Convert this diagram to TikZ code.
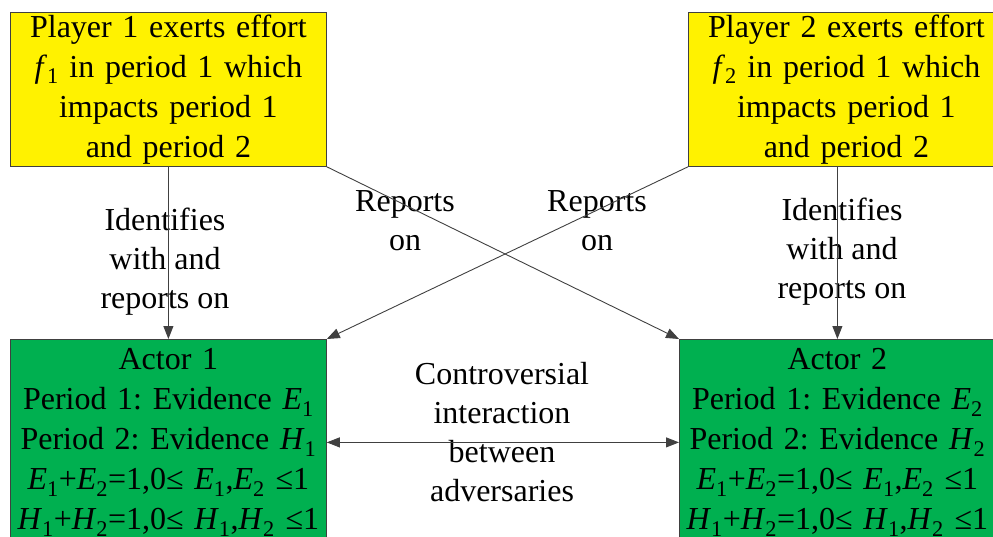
\documentclass[tikz,border=0pt]{standalone}
\usepackage{fontspec}
\setmainfont{Liberation Serif}
\usetikzlibrary{arrows.meta,positioning}
\definecolor{actorgreen}{HTML}{00B050}
\newcommand{\evar}[2]{\textit{#1}\textsubscript{#2}}
\frenchspacing

\begin{document}
\begin{tikzpicture}[x=1pt, y=-1pt, >={Triangle[length=13pt,width=10pt]},
  box/.style={draw=black!75, line width=0.8pt, text width=316pt, inner sep=0pt,
    align=center, font=\fontsize{32}{40}\selectfont},
  player/.style={box, fill=yellow, minimum height=154pt},
  actor/.style={box, fill=actorgreen, minimum height=206pt},
  lbl/.style={align=center, inner sep=0pt, font=\fontsize{32}{39}\selectfont},
  link/.style={draw=black!75, line width=0.9pt}]

\useasboundingbox (0,0) rectangle (993,537);
\clip (0,0) rectangle (993,537);

% players
\node[player, anchor=north west] (p1) at (10,12)
  {Player 1 exerts effort\\ \evar{f}{1} in period 1 which\\ impacts period 1\\ and period 2};
\node[player, anchor=north west] (p2) at (688,12)
  {Player 2 exerts effort\\ \evar{f}{2} in period 1 which\\ impacts period 1\\ and period 2};

% actors
\node[actor, anchor=north west] (a1) at (10,339)
  {Actor 1\\ Period 1: Evidence \evar{E}{1}\\ Period 2: Evidence \evar{H}{1}\\
   \makebox[0pt]{\evar{E}{1}+\evar{E}{2}=1,0≤ \evar{E}{1},\evar{E}{2} ≤1}\\
   \makebox[0pt]{\evar{H}{1}+\evar{H}{2}=1,0≤ \evar{H}{1},\evar{H}{2} ≤1}};
\node[actor, anchor=north west] (a2) at (679,339)
  {Actor 2\\ Period 1: Evidence \evar{E}{2}\\ Period 2: Evidence \evar{H}{2}\\
   \makebox[0pt]{\evar{E}{1}+\evar{E}{2}=1,0≤ \evar{E}{1},\evar{E}{2} ≤1}\\
   \makebox[0pt]{\evar{H}{1}+\evar{H}{2}=1,0≤ \evar{H}{1},\evar{H}{2} ≤1}};

% labels
\node[lbl] (idl) at (165,262) {Identifies\\ with and\\ reports on};
\node[lbl] (idr) at (842,252) {Identifies\\ with and\\ reports on};
\node[lbl] (repl) at (405,221) {Reports\\ on};
\node[lbl] (repr) at (597,221) {Reports\\ on};
\node[lbl] (ctrv) at (502,432) {Controversial\\ interaction\\ between\\ adversaries};

% connectors
\draw[link,->] (p1.south) -- (a1.north);
\draw[link,->] (a2.north |- p2.south) -- (a2.north);
\draw[link,->] (p1.south east) -- (a2.north west);
\draw[link,->] (p2.south west) -- (a1.north east);
\draw[link,<->] (a1.east) -- (a2.west);

\end{tikzpicture}
\end{document}
